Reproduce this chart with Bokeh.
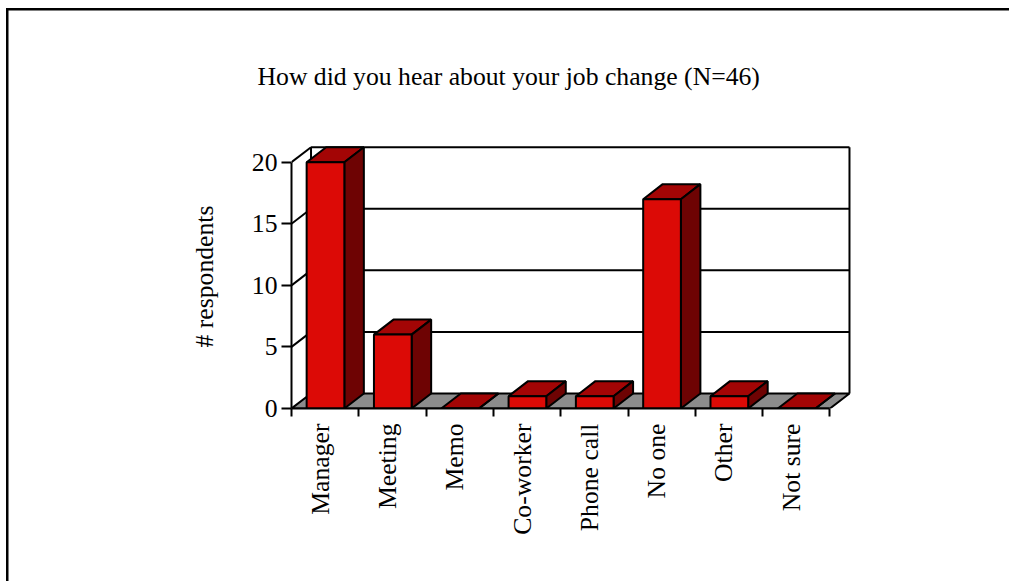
import math
from bokeh.plotting import figure
from bokeh.models import Range1d, FixedTicker
from bokeh.embed import file_html
from bokeh.resources import INLINE

# ---- data ----
categories = ["Manager", "Meeting", "Memo", "Co-worker", "Phone call", "No one", "Other", "Not sure"]
counts = [20, 6, 0, 1, 1, 17, 1, 0]
y_ticks = [0, 5, 10, 15, 20]
title_text = "How did you hear about your job change (N=46)"
y_label = "# respondents"

# ---- style constants ----
DX = 0.29      # depth offset in category units
DY = 1.22      # depth offset in count units
BAR_LO, BAR_HI = 0.225, 0.785
LABEL_SHIFT = -0.075   # nudge of category labels relative to category centre
N = len(categories)
YMAX = y_ticks[-1]
FRONT, TOP, SIDE, FLOOR = "#DC0A06", "#A30505", "#6E0303", "#8C8C8C"
FONT, FS = "Liberation Serif", "25.7px"
LW = 2

p = figure(width=1009, height=581, output_backend="svg", toolbar_location=None,
           x_range=Range1d(0, N + DX + 0.03), y_range=Range1d(0, YMAX + DY + 0.22),
           min_border_left=291, min_border_right=158, min_border_top=144, min_border_bottom=173)
p.outline_line_color = None
p.xgrid.visible = False
p.ygrid.visible = False
p.background_fill_color = "white"
p.border_fill_color = None
# outer page frame (top and left rules of the surrounding box)
p.styles = {
    "background": ("linear-gradient(#000,#000) 6px 8px / 1003px 2.5px no-repeat, "
                   "linear-gradient(#000,#000) 6px 8px / 2.5px 573px no-repeat, #ffffff"),
}

# title
p.title.text = title_text
p.title.text_font = FONT
p.title.text_font_size = FS
p.title.text_font_style = "normal"
p.title.text_color = "black"
p.title.align = "left"
p.title.offset = -34
p.title.standoff = 107

# floor
p.patch([0, N, N + DX, DX], [0, 0, DY, DY], fill_color=FLOOR, line_color="black", line_width=LW)

# walls: back wall gridlines / edges and left-wall diagonals
x0s, y0s, x1s, y1s = [], [], [], []
for v in y_ticks[1:]:
    x0s += [DX, 0]; y0s += [v + DY, v]; x1s += [N + DX, DX]; y1s += [v + DY, v + DY]
for xe in (DX, N + DX):
    x0s.append(xe); y0s.append(DY); x1s.append(xe); y1s.append(YMAX + DY)
p.segment(x0s, y0s, x1s, y1s, line_color="black", line_width=LW)

# bars
fx, fy, tx, ty, sx, sy = [], [], [], [], [], []
for i, v in enumerate(counts):
    a, b = i + BAR_LO, i + BAR_HI
    fx.append([a, b, b, a]); fy.append([0, 0, v, v])
    tx.append([a, b, b + DX, a + DX]); ty.append([v, v, v + DY, v + DY])
    sx.append([b, b + DX, b + DX, b]); sy.append([0, DY, v + DY, v])
p.patches(tx, ty, fill_color=TOP, line_color="black", line_width=LW)
p.patches(sx, sy, fill_color=SIDE, line_color="black", line_width=LW)
p.patches(fx, fy, fill_color=FRONT, line_color="black", line_width=LW)

# x axis
xa = p.xaxis[0]
centers = [i + 0.5 + LABEL_SHIFT for i in range(N)]
xa.ticker = FixedTicker(ticks=centers, minor_ticks=list(range(N + 1)))
xa.major_label_overrides = {c: name for c, name in zip(centers, categories)}
xa.major_label_orientation = math.pi / 2
xa.major_tick_out = 0
xa.major_tick_in = 0
xa.minor_tick_out = 8
xa.minor_tick_in = 0
xa.minor_tick_line_color = "black"
xa.minor_tick_line_width = LW
xa.axis_line_width = LW
xa.bounds = (0, N)
xa.major_label_standoff = 7
xa.major_label_text_font = FONT
xa.major_label_text_font_size = FS
xa.major_label_text_color = "black"

# y axis
ya = p.yaxis[0]
ya.ticker = FixedTicker(ticks=y_ticks)
ya.bounds = (0, YMAX)
ya.major_tick_out = 10
ya.major_tick_in = 0
ya.minor_tick_line_color = None
ya.major_tick_line_width = LW
ya.axis_line_width = LW
ya.major_label_standoff = 4
ya.major_label_text_font = FONT
ya.major_label_text_font_size = FS
ya.major_label_text_color = "black"
ya.axis_label = y_label
ya.axis_label_text_font = FONT
ya.axis_label_text_font_size = FS
ya.axis_label_text_font_style = "normal"
ya.axis_label_text_color = "black"
ya.axis_label_standoff = 30

open("out.html", "w").write(file_html(p, INLINE))
